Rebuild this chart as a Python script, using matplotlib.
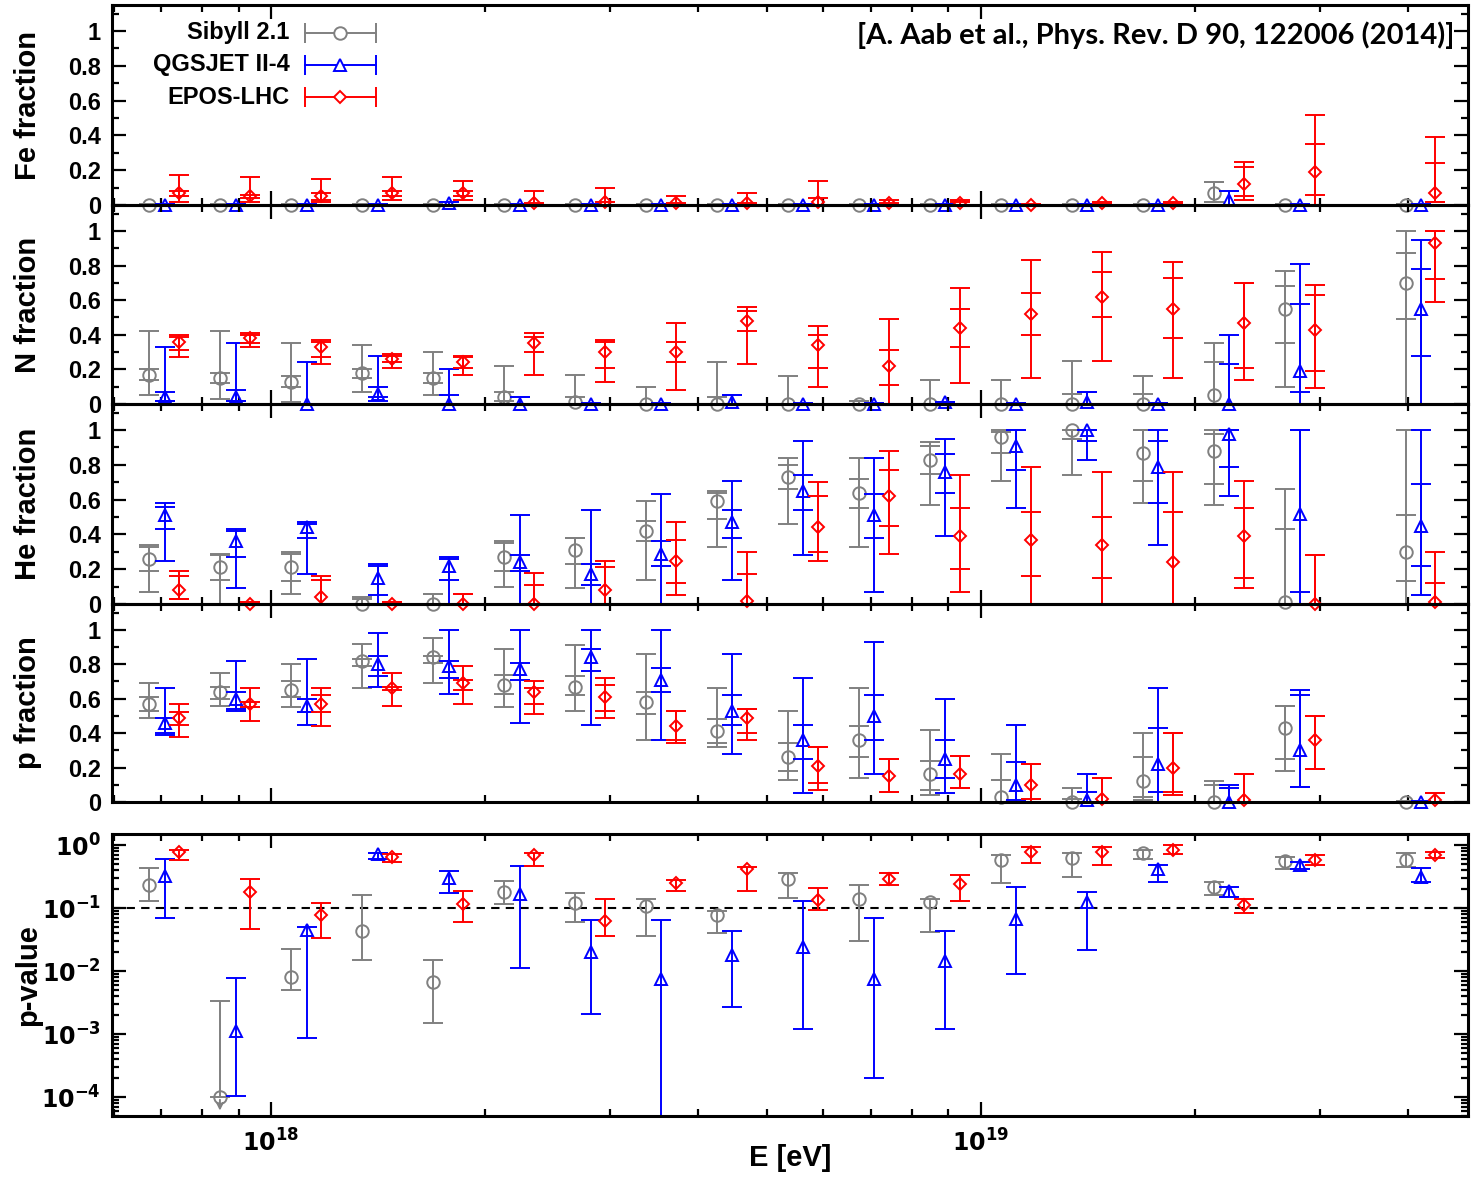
import numpy as np
import matplotlib
matplotlib.use("Agg")
import matplotlib.pyplot as plt
from matplotlib.ticker import FixedLocator, FixedFormatter, NullFormatter

plt.rcParams['font.family'] = ['Liberation Sans', 'DejaVu Sans']
plt.rcParams['font.weight'] = 'bold'
plt.rcParams['mathtext.default'] = 'bf'

# energy bins (log10 E/eV), last bin is the open one above 10^19.5
log_e = [17.85, 17.95, 18.05, 18.15, 18.25, 18.35, 18.45, 18.55, 18.65,
         18.75, 18.85, 18.95, 19.05, 19.15, 19.25, 19.35, 19.45, 19.62]

models = ['Sibyll 2.1', 'QGSJET II-4', 'EPOS-LHC']
colors = ['#808080', '#0000ff', '#ff0000']
markers = ['o', '^', 'D']
msizes = [9, 8, 6.5]
shift = [-0.022, 0.0, 0.02]   # small horizontal shift per model (decades)

# fraction rows: (value, stat_lo, stat_hi, sys_lo, sys_hi)
fe_sib = [(0, 0, 0, 0, 0.005)] * 15 + [(0.07, 0.02, 0.13, 0.02, 0.13), (0, 0, 0, 0, 0.005), (0, 0, 0, 0, 0.005)]
fe_qgs = [(0, 0, 0, 0, 0.005)] * 4 + [(0.01, 0, 0.02, 0, 0.02)] + [(0, 0, 0, 0, 0.005)] * 10 + \
         [(0.03, 0, 0.08, 0, 0.08), (0, 0, 0, 0, 0.005), (0, 0, 0, 0, 0.005)]
fe_epos = [(0.07, 0.05, 0.08, 0.02, 0.17), (0.05, 0.04, 0.06, 0.02, 0.16), (0.05, 0.03, 0.07, 0.02, 0.15),
           (0.07, 0.05, 0.08, 0.03, 0.16), (0.07, 0.05, 0.08, 0.03, 0.14), (0.01, 0, 0.01, 0, 0.08),
           (0.02, 0, 0.02, 0, 0.10), (0.01, 0, 0.01, 0, 0.05), (0.01, 0, 0.01, 0, 0.07),
           (0.02, 0, 0.04, 0, 0.14), (0.01, 0, 0.01, 0, 0.03), (0.01, 0, 0.02, 0, 0.03),
           (0, 0, 0, 0, 0.005), (0.01, 0, 0.01, 0, 0.02), (0.01, 0, 0.01, 0, 0.02),
           (0.12, 0.05, 0.22, 0.03, 0.25), (0.19, 0.06, 0.35, 0, 0.52), (0.07, 0.02, 0.24, 0.02, 0.39)]

n_sib = [(0.17, 0.14, 0.20, 0.05, 0.42), (0.15, 0.12, 0.18, 0.03, 0.42), (0.13, 0.10, 0.16, 0.01, 0.35),
         (0.18, 0.15, 0.20, 0.07, 0.34), (0.15, 0.12, 0.18, 0.05, 0.30), (0.04, 0.02, 0.07, 0, 0.22),
         (0.01, 0, 0.04, 0, 0.17), (0, 0, 0, 0, 0.10), (0, 0, 0.04, 0, 0.24),
         (0, 0, 0, 0, 0.16), (0, 0, 0.02, 0, 0.02), (0, 0, 0, 0, 0.14),
         (0, 0, 0, 0, 0.14), (0, 0, 0.06, 0, 0.25), (0, 0, 0.06, 0, 0.16),
         (0.05, 0, 0.24, 0, 0.35), (0.55, 0.35, 0.68, 0.10, 0.77), (0.70, 0.49, 0.87, 0, 1.0)]
n_qgs = [(0.04, 0.02, 0.07, 0.02, 0.33), (0.04, 0.02, 0.08, 0.02, 0.35), (0, 0, 0, 0, 0.24),
         (0.06, 0.04, 0.10, 0.02, 0.28), (0, 0, 0.05, 0, 0.20), (0, 0, 0.04, 0, 0.04),
         (0, 0, 0, 0, 0.005), (0, 0, 0, 0, 0.005), (0.01, 0, 0.05, 0, 0.05),
         (0, 0, 0, 0, 0.005), (0, 0, 0, 0, 0.005), (0.01, 0, 0.01, 0, 0.01),
         (0, 0, 0, 0, 0.005), (0.01, 0, 0.07, 0, 0.07), (0, 0, 0, 0, 0.005),
         (0, 0, 0.23, 0, 0.40), (0.19, 0.07, 0.58, 0, 0.81), (0.55, 0.28, 0.78, 0, 0.95)]
n_epos = [(0.36, 0.31, 0.39, 0.27, 0.40), (0.38, 0.35, 0.40, 0.33, 0.41), (0.33, 0.27, 0.36, 0.23, 0.37),
          (0.26, 0.24, 0.28, 0.21, 0.29), (0.24, 0.21, 0.27, 0.17, 0.28), (0.35, 0.30, 0.39, 0.17, 0.41),
          (0.30, 0.21, 0.36, 0.13, 0.37), (0.30, 0.24, 0.36, 0.08, 0.47), (0.48, 0.42, 0.54, 0.23, 0.56),
          (0.34, 0.21, 0.40, 0.10, 0.45), (0.22, 0.11, 0.31, 0, 0.49), (0.44, 0.33, 0.55, 0.12, 0.67),
          (0.52, 0.40, 0.64, 0.15, 0.83), (0.62, 0.50, 0.76, 0.25, 0.88), (0.55, 0.38, 0.73, 0.15, 0.82),
          (0.47, 0.21, 0.70, 0.14, 0.70), (0.43, 0.19, 0.63, 0.09, 0.69), (0.93, 0.72, 1.0, 0.59, 1.0)]

he_sib = [(0.26, 0.19, 0.33, 0.07, 0.34), (0.21, 0.14, 0.28, 0, 0.29), (0.21, 0.13, 0.29, 0.06, 0.30),
          (0, 0, 0.03, 0, 0.04), (0, 0, 0.06, 0, 0.06), (0.27, 0.19, 0.35, 0.10, 0.36),
          (0.31, 0.23, 0.38, 0.09, 0.38), (0.42, 0.36, 0.48, 0.14, 0.59), (0.59, 0.49, 0.64, 0.33, 0.65),
          (0.73, 0.66, 0.80, 0.46, 0.84), (0.64, 0.55, 0.72, 0.33, 0.84), (0.83, 0.75, 0.91, 0.57, 0.93),
          (0.96, 0.87, 0.99, 0.71, 1.0), (1.0, 0.95, 1.0, 0.74, 1.0), (0.87, 0.71, 1.0, 0.58, 1.0),
          (0.88, 0.69, 0.98, 0.57, 1.0), (0.01, 0, 0.43, 0, 0.66), (0.30, 0.13, 0.51, 0, 1.0)]
he_qgs = [(0.51, 0.43, 0.56, 0.25, 0.58), (0.36, 0.27, 0.42, 0.09, 0.43), (0.44, 0.38, 0.46, 0.17, 0.47),
          (0.15, 0.05, 0.22, 0, 0.23), (0.22, 0.14, 0.26, 0, 0.27), (0.24, 0.19, 0.28, 0, 0.51),
          (0.17, 0.11, 0.23, 0, 0.54), (0.29, 0.22, 0.36, 0, 0.63), (0.47, 0.38, 0.54, 0.14, 0.71),
          (0.65, 0.54, 0.74, 0.28, 0.94), (0.51, 0.38, 0.63, 0.07, 0.84), (0.76, 0.64, 0.86, 0.39, 0.95),
          (0.91, 0.77, 1.0, 0.55, 1.0), (1.0, 0.94, 1.0, 0.83, 1.0), (0.79, 0.58, 0.94, 0.34, 1.0),
          (0.98, 0.79, 1.0, 0.62, 1.0), (0.52, 0.07, 1.0, 0, 1.0), (0.45, 0.22, 0.69, 0.05, 1.0)]
he_epos = [(0.08, 0.03, 0.16, 0.03, 0.19), (0, 0, 0.01, 0, 0.01), (0.04, 0, 0.14, 0, 0.16),
           (0, 0, 0.01, 0, 0.01), (0, 0, 0.06, 0, 0.06), (0, 0, 0.11, 0, 0.18),
           (0.08, 0, 0.21, 0, 0.25), (0.25, 0.12, 0.37, 0.05, 0.47), (0.02, 0, 0.17, 0, 0.30),
           (0.44, 0.30, 0.62, 0.25, 0.70), (0.62, 0.45, 0.77, 0.29, 0.88), (0.39, 0.20, 0.55, 0.07, 0.74),
           (0.37, 0.16, 0.53, 0, 0.79), (0.34, 0.15, 0.50, 0, 0.76), (0.24, 0, 0.53, 0, 0.76),
           (0.39, 0.15, 0.55, 0.09, 0.71), (0, 0, 0.28, 0, 0.28), (0.01, 0, 0.12, 0, 0.30)]

p_sib = [(0.57, 0.53, 0.61, 0.49, 0.69), (0.64, 0.60, 0.67, 0.56, 0.75), (0.65, 0.61, 0.70, 0.55, 0.80),
         (0.82, 0.79, 0.83, 0.66, 0.92), (0.84, 0.81, 0.85, 0.69, 0.95), (0.68, 0.63, 0.74, 0.55, 0.89),
         (0.67, 0.62, 0.73, 0.53, 0.91), (0.58, 0.51, 0.64, 0.36, 0.86), (0.41, 0.34, 0.48, 0.32, 0.66),
         (0.26, 0.18, 0.34, 0.13, 0.53), (0.36, 0.26, 0.44, 0.14, 0.66), (0.16, 0.07, 0.24, 0.04, 0.42),
         (0.03, 0, 0.13, 0, 0.28), (0, 0, 0.02, 0, 0.08), (0.12, 0.03, 0.26, 0.01, 0.40),
         (0, 0, 0.10, 0, 0.12), (0.43, 0.25, 0.56, 0.18, 0.56), (0, 0, 0, 0, 0.005)]
p_qgs = [(0.46, 0.40, 0.49, 0.39, 0.66), (0.60, 0.54, 0.64, 0.53, 0.82), (0.56, 0.52, 0.60, 0.45, 0.83),
         (0.80, 0.73, 0.85, 0.67, 0.98), (0.79, 0.72, 0.82, 0.63, 1.0), (0.77, 0.71, 0.81, 0.46, 1.0),
         (0.84, 0.76, 0.89, 0.45, 1.0), (0.71, 0.64, 0.78, 0.36, 1.0), (0.53, 0.45, 0.62, 0.28, 0.86),
         (0.36, 0.25, 0.45, 0.05, 0.72), (0.50, 0.36, 0.62, 0.16, 0.93), (0.25, 0.14, 0.36, 0.05, 0.60),
         (0.10, 0.01, 0.23, 0, 0.45), (0.01, 0, 0.06, 0, 0.16), (0.22, 0.06, 0.43, 0, 0.66),
         (0, 0, 0.08, 0, 0.10), (0.30, 0.09, 0.62, 0.09, 0.65), (0, 0, 0, 0, 0.005)]
p_epos = [(0.49, 0.45, 0.52, 0.38, 0.57), (0.57, 0.55, 0.58, 0.47, 0.66), (0.57, 0.52, 0.62, 0.44, 0.66),
          (0.66, 0.65, 0.67, 0.56, 0.75), (0.69, 0.65, 0.71, 0.57, 0.79), (0.64, 0.57, 0.66, 0.51, 0.70),
          (0.61, 0.53, 0.68, 0.49, 0.72), (0.44, 0.36, 0.53, 0.34, 0.53), (0.49, 0.40, 0.54, 0.36, 0.54),
          (0.21, 0.11, 0.32, 0.07, 0.32), (0.15, 0.06, 0.25, 0.06, 0.25), (0.16, 0.08, 0.27, 0.08, 0.27),
          (0.10, 0.02, 0.22, 0, 0.22), (0.02, 0, 0.14, 0, 0.14), (0.20, 0.06, 0.40, 0.04, 0.40),
          (0.01, 0, 0.16, 0, 0.16), (0.36, 0.19, 0.50, 0.19, 0.50), (0.01, 0, 0.05, 0, 0.05)]

# p-value rows: (value, lo, hi)
pv_sib = [(0.23, 0.13, 0.44), (1e-4, 1e-4, 3.3e-3), (8e-3, 5e-3, 0.022), (0.044, 0.015, 0.16),
          (6.8e-3, 1.5e-3, 0.015), (0.18, 0.116, 0.27), (0.12, 0.061, 0.175), (0.108, 0.036, 0.137),
          (0.079, 0.040, 0.09), (0.285, 0.146, 0.355), (0.139, 0.030, 0.23), (0.126, 0.041, 0.14),
          (0.58, 0.25, 0.69), (0.63, 0.31, 0.74), (0.74, 0.61, 0.83), (0.22, 0.16, 0.26),
          (0.56, 0.42, 0.64), (0.58, 0.45, 0.74)]
pv_qgs = [(0.32, 0.069, 0.61), (1.1e-3, 1.05e-4, 7.9e-3), (0.045, 8.7e-4, 0.05), (0.71, 0.6, 0.76),
          (0.30, 0.175, 0.39), (0.17, 0.0113, 0.46), (0.02, 2.1e-3, 0.064), (7.6e-3, 1e-5, 0.064),
          (0.018, 2.65e-3, 0.043), (0.0245, 1.2e-3, 0.13), (7.4e-3, 2.0e-4, 0.069), (0.0144, 1.2e-3, 0.043),
          (0.067, 8.9e-3, 0.22), (0.126, 0.0215, 0.18), (0.41, 0.26, 0.49), (0.186, 0.15, 0.22),
          (0.48, 0.41, 0.54), (0.31, 0.26, 0.43)]
pv_epos = [(0.77, 0.58, 0.83), (0.18, 0.046, 0.29), (0.077, 0.034, 0.12), (0.64, 0.54, 0.71),
           (0.115, 0.061, 0.19), (0.69, 0.47, 0.76), (0.063, 0.036, 0.137), (0.25, 0.19, 0.28),
           (0.41, 0.19, 0.45), (0.134, 0.093, 0.205), (0.285, 0.23, 0.355), (0.24, 0.13, 0.33),
           (0.78, 0.52, 0.94), (0.77, 0.49, 0.92), (0.85, 0.71, 1.0), (0.112, 0.085, 0.14),
           (0.59, 0.49, 0.69), (0.69, 0.63, 0.78)]
sib_pv_upper = [1]   # bins where the Sibyll p-value is an upper limit

frac_panels = [('Fe fraction', [fe_sib, fe_qgs, fe_epos]),
               ('N fraction', [n_sib, n_qgs, n_epos]),
               ('He fraction', [he_sib, he_qgs, he_epos]),
               ('p fraction', [p_sib, p_qgs, p_epos])]

W, H = 1472, 1180
fig = plt.figure(figsize=(W / 100, H / 100), dpi=100)
L, R = 112, 1468
tops = [5, 205, 404, 604]
bots = [205, 404, 604, 802]

xmin, xmax = 10 ** 17.776, 10 ** 19.686
lw = 1.4


def style_axis(ax):
    ax.set_facecolor('none')
    ax.set_xscale('log')
    ax.set_xlim(xmin, xmax)
    for s in ax.spines.values():
        s.set_linewidth(2.2)
    ax.tick_params(which='both', direction='in', top=True, right=True, width=1.6, labelsize=17)
    ax.tick_params(which='major', length=10)
    ax.tick_params(which='minor', length=5)
    ax.tick_params(axis='y', pad=8)
    ax.xaxis.set_major_locator(FixedLocator([1e18, 1e19]))
    ax.xaxis.set_minor_locator(FixedLocator([m * 10.0 ** d for d in (17, 18, 19) for m in range(2, 10)]))
    ax.xaxis.set_minor_formatter(NullFormatter())


def xpos(k):
    return 10 ** (np.array(log_e) + shift[k])


axes = []
for i, (label, tables) in enumerate(frac_panels):
    ax = fig.add_axes([L / W, 1 - bots[i] / H, (R - L) / W, (bots[i] - tops[i]) / H])
    style_axis(ax)
    ax.set_ylim(0, 1.15)
    ax.yaxis.set_major_locator(FixedLocator([0, 0.2, 0.4, 0.6, 0.8, 1.0]))
    ax.yaxis.set_major_formatter(FixedFormatter(['0', '0.2', '0.4', '0.6', '0.8', '1']))
    ax.yaxis.set_minor_locator(FixedLocator([0.1, 0.3, 0.5, 0.7, 0.9, 1.1]))
    ax.xaxis.set_major_formatter(NullFormatter())
    for k, rows in enumerate(tables):
        a = np.array(rows, dtype=float)
        x = xpos(k)
        for lo, hi in ((3, 4), (1, 2)):
            err = np.clip([a[:, 0] - a[:, lo], a[:, hi] - a[:, 0]], 0, None)
            ax.errorbar(x, a[:, 0], yerr=err, fmt='none', ecolor=colors[k], elinewidth=lw,
                        capsize=7, capthick=lw, clip_on=False)
        ax.plot(x, a[:, 0], ls='none', marker=markers[k], ms=msizes[k], mfc='none',
                mec=colors[k], mew=lw, clip_on=False)
    fig.text(28 / W, 1 - (tops[i] + bots[i]) / 2 / H, label, rotation=90, ha='center',
             va='center', fontsize=21)
    axes.append(ax)

# legend in the Fe panel, gnuplot style
ax0 = axes[0]
for k in range(3):
    yy = 0.86 - 0.16 * k
    ax0.text(0.131, yy, models[k], transform=ax0.transAxes, ha='right', va='center', fontsize=17)
    ax0.plot([0.142, 0.195], [yy, yy], transform=ax0.transAxes, color=colors[k], lw=lw,
             marker='|', ms=14, mew=lw)
    ax0.plot([0.1685], [yy], transform=ax0.transAxes, ls='none', marker=markers[k], ms=msizes[k],
             mfc='white', mec=colors[k], mew=lw)
ax0.text(0.990, 0.85, '[A. Aab et al., Phys. Rev. D 90, 122006 (2014)]', transform=ax0.transAxes,
         ha='right', va='center', fontsize=21, family=['Lato', 'DejaVu Sans'], fontweight='bold')

# p-value panel
pt, pb = 834, 1116
axp = fig.add_axes([L / W, 1 - pb / H, (R - L) / W, (pb - pt) / H])
style_axis(axp)
axp.set_yscale('log')
axp.set_ylim(5e-5, 1.5)
axp.yaxis.set_major_locator(FixedLocator([1e-4, 1e-3, 1e-2, 1e-1, 1]))
axp.yaxis.set_major_formatter(FixedFormatter([r'$10^{-4}$', r'$10^{-3}$', r'$10^{-2}$',
                                              r'$10^{-1}$', r'$10^{0}$']))
axp.yaxis.set_minor_locator(FixedLocator([m * 10.0 ** d for d in (-5, -4, -3, -2, -1, 0) for m in range(2, 10)]))
axp.yaxis.set_minor_formatter(NullFormatter())
axp.xaxis.set_major_formatter(FixedFormatter([r'$10^{18}$', r'$10^{19}$']))
axp.tick_params(axis='x', pad=10)
axp.axhline(0.1, color='black', lw=1.5, ls=(0, (4, 3)))
for k, rows in enumerate([pv_sib, pv_qgs, pv_epos]):
    a = np.array(rows, dtype=float)
    x = xpos(k)
    err = np.clip([a[:, 0] - a[:, 1], a[:, 2] - a[:, 0]], 0, None)
    axp.errorbar(x, a[:, 0], yerr=err, fmt='none', ecolor=colors[k], elinewidth=lw,
                 capsize=7, capthick=lw)
    axp.plot(x, a[:, 0], ls='none', marker=markers[k], ms=msizes[k], mfc='none',
             mec=colors[k], mew=lw, clip_on=False)
for b in sib_pv_upper:
    xs = xpos(0)[b]
    axp.annotate('', xy=(xs, pv_sib[b][0] * 0.55), xytext=(xs, pv_sib[b][0]),
                 arrowprops=dict(arrowstyle='->', color=colors[0], lw=lw), annotation_clip=False)
fig.text((L + R) / 2 / W, 1 - 1158 / H, 'E [eV]', ha='center', va='center', fontsize=21)
fig.text(28 / W, 1 - (pt + pb) / 2 / H, 'p-value', rotation=90, ha='center', va='center', fontsize=21)

fig.savefig('out.png', dpi=100)
